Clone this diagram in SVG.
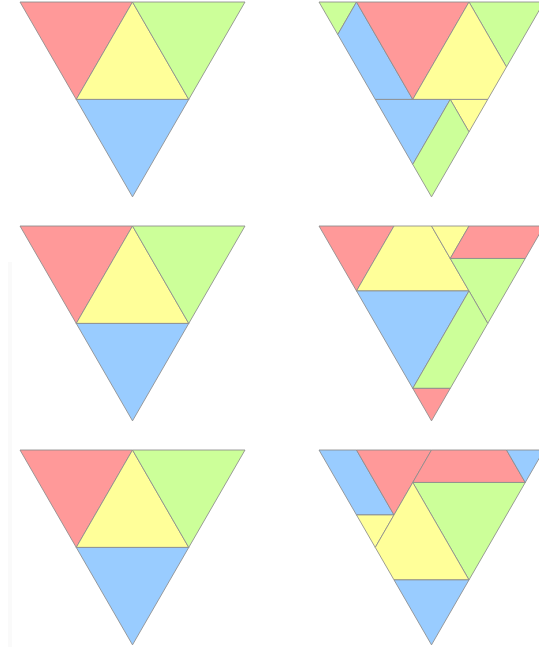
<svg xmlns="http://www.w3.org/2000/svg" width="539" height="647" viewBox="0 0 539 647">
<defs>
<style>
.p{stroke:#8c8c8c;stroke-width:1;stroke-linejoin:round;stroke-opacity:0.85}
.r{fill:#ff9999}
.y{fill:#ffff99}
.g{fill:#ccff99}
.b{fill:#99ccff}
</style>
<g id="tri">
<polygon class="p r" points="0,0 112.5,0 56.25,97.43"/>
<polygon class="p y" points="112.5,0 168.75,97.43 56.25,97.43"/>
<polygon class="p g" points="112.5,0 225,0 168.75,97.43"/>
<polygon class="p b" points="56.25,97.43 168.75,97.43 112.5,194.86"/>
</g>
</defs>
<rect x="0" y="0" width="539" height="647" fill="#ffffff"/>
<rect x="8" y="262" width="4" height="385" fill="#fafafa"/>
<g id="left1" transform="translate(20,2)"><use href="#tri"/></g>
<g id="left2" transform="translate(20,226)"><use href="#tri"/></g>
<g id="left3" transform="translate(20,450)"><use href="#tri"/></g>
<g id="right1" transform="translate(319,2)">
<polygon class="p g" points="0,0 37.5,0 18.75,32.48"/>
<polygon class="p b" points="37.5,0 18.75,32.48 56.25,97.43 93.75,97.43"/>
<polygon class="p r" points="37.5,0 150,0 93.75,97.43"/>
<polygon class="p g" points="150,0 225,0 187.5,64.95"/>
<polygon class="p y" points="150,0 187.5,64.95 168.75,97.43 93.75,97.43"/>
<polygon class="p b" points="56.25,97.43 131.25,97.43 93.75,162.38"/>
<polygon class="p y" points="131.25,97.43 168.75,97.43 150,129.9"/>
<polygon class="p g" points="131.25,97.43 150,129.9 112.5,194.86 93.75,162.38"/>
</g>
<g id="right2" transform="translate(319,226)">
<polygon class="p r" points="0,0 75,0 37.5,64.95"/>
<polygon class="p y" points="75,0 112.5,0 150,64.95 37.5,64.95"/>
<polygon class="p y" points="112.5,0 150,0 131.25,32.48"/>
<polygon class="p r" points="150,0 225,0 206.25,32.48 131.25,32.48"/>
<polygon class="p g" points="131.25,32.48 206.25,32.48 168.75,97.43 150,64.95"/>
<polygon class="p b" points="37.5,64.95 150,64.95 93.75,162.38"/>
<polygon class="p g" points="150,64.95 168.75,97.43 131.25,162.38 93.75,162.38"/>
<polygon class="p r" points="93.75,162.38 131.25,162.38 112.5,194.86"/>
</g>
<g id="right3" transform="translate(319,450)">
<polygon class="p b" points="0,0 37.5,0 75,64.95 37.5,64.95"/>
<polygon class="p r" points="37.5,0 112.5,0 75,64.95"/>
<polygon class="p r" points="112.5,0 187.5,0 206.25,32.48 93.75,32.48"/>
<polygon class="p b" points="187.5,0 225,0 206.25,32.48"/>
<polygon class="p g" points="93.75,32.48 206.25,32.48 150,129.9"/>
<polygon class="p y" points="37.5,64.95 75,64.95 56.25,97.43"/>
<polygon class="p y" points="93.75,32.48 150,129.9 75,129.9 56.25,97.43"/>
<polygon class="p b" points="75,129.9 150,129.9 112.5,194.86"/>
</g>
</svg>
